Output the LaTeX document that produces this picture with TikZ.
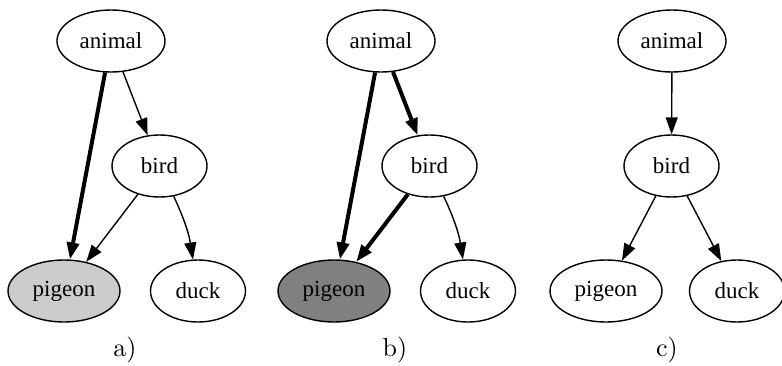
\documentclass[tikz,border=0pt]{standalone}
\usepackage{fontspec}
\newfontfamily\dotfont{Liberation Serif}
\newfontfamily\capfont{lmroman10-regular.otf}
\usepackage{tikz}
\usetikzlibrary{shapes,arrows.meta}
\tikzstyle{word} = [draw, ellipse, line width=1.4pt, inner sep=0pt, minimum height=62pt, minimum width=95pt, font=\dotfont\fontsize{23}{23}\selectfont]
\tikzstyle{line} = [draw, line width=1.4pt, -{Triangle[length=17pt,width=12pt]}]
\tikzset{
  heavy/.style ={line, line width=4pt},
  caption/.style ={anchor=base, font=\capfont\fontsize{26}{26}\selectfont}
}

\begin{document}
\begin{tikzpicture}[x=1pt,y=-1pt]
	\useasboundingbox (0,0) rectangle (782,365);
	\node[word, minimum width=108pt] (animalA) at (111,41) {animal};
	\node[word] (birdA) at (159.5,166) {bird};
	\node[word, minimum width=112pt, fill=gray!40] (pigeonA) at (64,291) {pigeon};
	\node[word] (duckA) at (198,291) {duck};
	\node[caption] (capA) at (125,356) {a)};
	\draw [heavy] (animalA) -- (pigeonA);
	\draw [line] (animalA) -- (birdA);
	\draw [line] (birdA) -- (pigeonA);
	\draw [line] (birdA) to[bend left=8] (duckA);

	\node[word, minimum width=108pt] (animalB) at (381,41) {animal};
	\node[word] (birdB) at (429.5,166) {bird};
	\node[word, minimum width=112pt, fill=gray] (pigeonB) at (334,291) {pigeon};
	\node[word] (duckB) at (468,291) {duck};
	\node[caption] (capB) at (395,356) {b)};
	\draw [heavy] (animalB) -- (pigeonB);
	\draw [heavy] (animalB) -- (birdB);
	\draw [heavy] (birdB) -- (pigeonB);
	\draw [line] (birdB) to[bend left=8] (duckB);

	\node[word, minimum width=108pt] (animalC) at (672,41) {animal};
	\node[word] (birdC) at (671.5,166) {bird};
	\node[word, minimum width=112pt] (pigeonC) at (606,291) {pigeon};
	\node[word] (duckC) at (737,291) {duck};
	\node[caption] (capC) at (667,356) {c)};
	\draw [line] (animalC) -- (birdC);
	\draw [line] (birdC) -- (pigeonC);
	\draw [line] (birdC) -- (duckC);
\end{tikzpicture}
\end{document}
